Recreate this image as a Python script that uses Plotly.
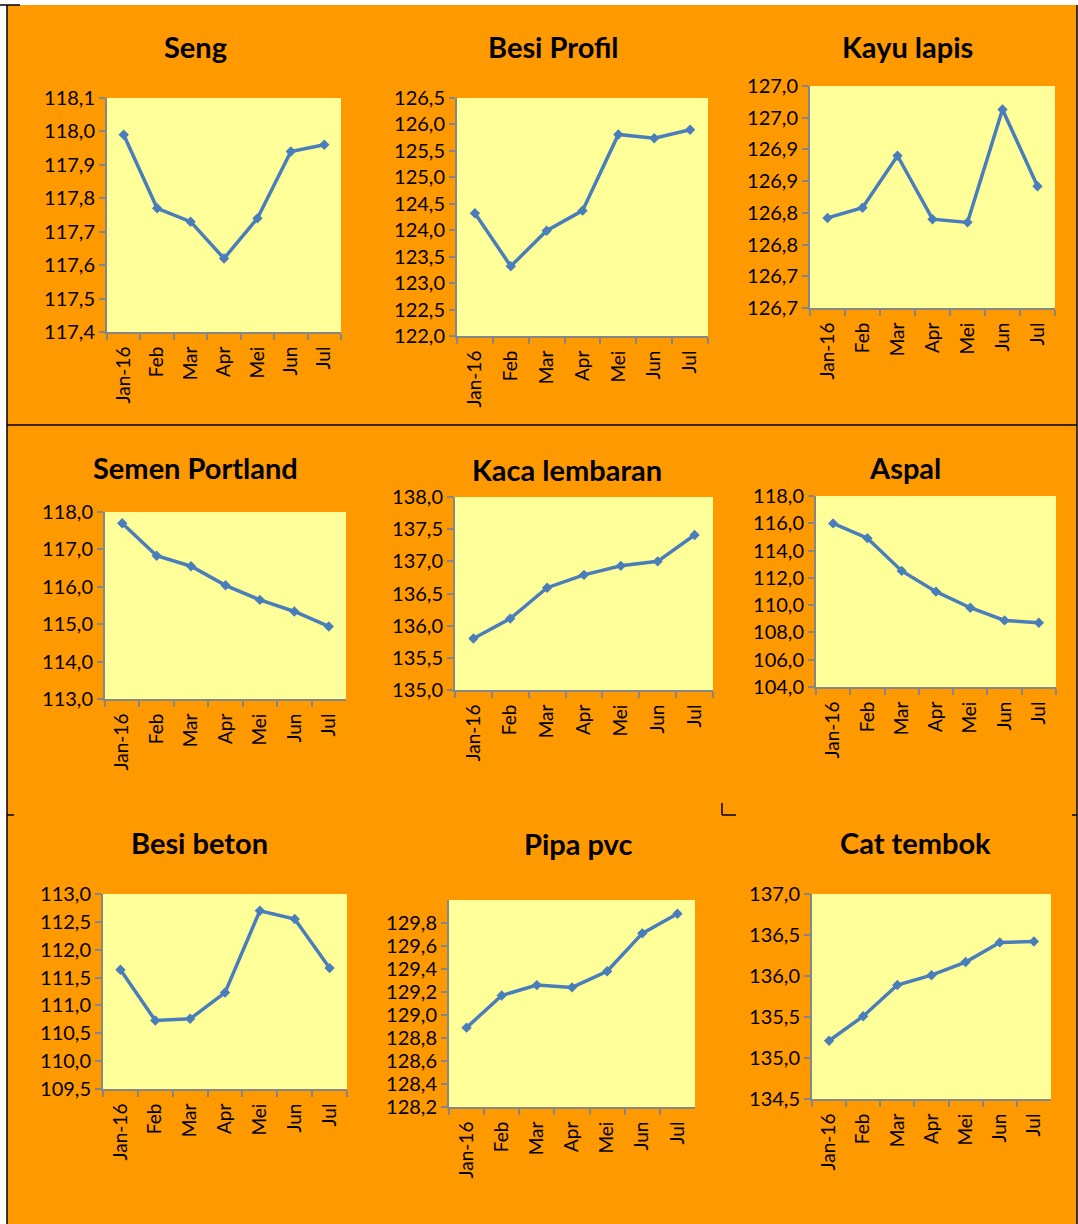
import plotly.graph_objects as go

W, H = 1078, 1224

months = ["Jan-16", "Feb", "Mar", "Apr", "Mei", "Jun", "Jul"]

titles = ["Seng", "Besi Profil", "Kayu lapis",
          "Semen Portland", "Kaca lembaran", "Aspal",
          "Besi beton", "Pipa pvc", "Cat tembok"]

seng = [117.99, 117.77, 117.73, 117.62, 117.74, 117.94, 117.96]
besi_profil = [124.32, 123.32, 123.99, 124.37, 125.81, 125.74, 125.90]
kayu_lapis = [126.792, 126.808, 126.890, 126.790, 126.785, 126.963, 126.842]
semen_portland = [117.70, 116.83, 116.55, 116.04, 115.65, 115.34, 114.94]
kaca_lembaran = [135.80, 136.11, 136.59, 136.79, 136.93, 137.00, 137.41]
aspal = [115.99, 114.91, 112.51, 110.99, 109.81, 108.88, 108.71]
besi_beton = [111.64, 110.73, 110.76, 111.23, 112.70, 112.55, 111.67]
pipa_pvc = [128.89, 129.17, 129.26, 129.24, 129.38, 129.71, 129.88]
cat_tembok = [135.21, 135.51, 135.89, 136.01, 136.17, 136.41, 136.42]

series = [seng, besi_profil, kayu_lapis, semen_portland, kaca_lembaran,
          aspal, besi_beton, pipa_pvc, cat_tembok]

def ticks(lo, hi, step):
    n = int(round((hi - lo) / step))
    return [round(lo + i * step, 4) for i in range(n + 1)]

kayu_vals = ticks(126.65, 127.00, 0.05)
kayu_text = ["126,7", "126,7", "126,8", "126,8", "126,9", "126,9", "127,0", "127,0"]

yaxes_cfg = [
    (117.4, 118.1, ticks(117.4, 118.1, 0.1), None),
    (122.0, 126.5, ticks(122.0, 126.5, 0.5), None),
    (126.65, 127.00, kayu_vals, kayu_text),
    (113.0, 118.0, ticks(113.0, 118.0, 1.0), None),
    (135.0, 138.0, ticks(135.0, 138.0, 0.5), None),
    (104.0, 118.0, ticks(104.0, 118.0, 2.0), None),
    (109.5, 113.0, ticks(109.5, 113.0, 0.5), None),
    (128.2, 130.0, ticks(128.2, 129.8, 0.2), None),
    (134.5, 137.0, ticks(134.5, 137.0, 0.5), None),
]

# plot-area boxes in pixels (x0, x1, y0, y1) measured from top-left
boxes = [
    (107, 341, 98, 332), (457, 708, 98, 336), (810, 1055, 86, 308),
    (105, 346, 512, 699), (455, 713, 497, 690), (816, 1056, 496, 687),
    (103, 347, 894, 1089), (449, 695, 900, 1107), (812, 1051, 894, 1099),
]

title_pos = [
    (195, 47), (553, 47), (907, 47),
    (195, 467), (567, 470), (905, 468),
    (200, 842), (578, 843), (915, 842),
]

FONT = "Lato"
AXIS_COLOR = "#868686"
LINE_COLOR = "#4A7EBB"

fig = go.Figure()
layout = dict(
    width=W, height=H,
    margin=dict(l=0, r=0, t=0, b=0, pad=0, autoexpand=False),
    paper_bgcolor="#FF9900",
    plot_bgcolor="#FFFF99",
    showlegend=False,
    separators=",.",
    font=dict(family=FONT, color="#000000"),
)

annotations = []
for i in range(9):
    k = "" if i == 0 else str(i + 1)
    x0, x1, y0, y1 = boxes[i]
    fig.add_trace(go.Scatter(
        x=months, y=series[i], mode="lines+markers",
        line=dict(color=LINE_COLOR, width=3.5),
        marker=dict(symbol="diamond", size=8, color=LINE_COLOR),
        xaxis="x" + k, yaxis="y" + k, hoverinfo="skip",
    ))
    lo, hi, tv, tt = yaxes_cfg[i]
    layout["xaxis" + k] = dict(
        domain=[x0 / W, x1 / W], anchor="y" + k,
        type="category", categoryorder="array", categoryarray=months,
        range=[-0.5, 6.5], tickson="boundaries",
        ticks="outside", ticklen=6, tickwidth=2, tickcolor=AXIS_COLOR,
        showline=True, linecolor=AXIS_COLOR, linewidth=2,
        showgrid=False, zeroline=False, tickangle=-90, automargin=False,
        ticklabelstandoff=5,
        tickfont=dict(family=FONT, size=19, color="#000000"),
        fixedrange=True,
    )
    yax = dict(
        domain=[1 - y1 / H, 1 - y0 / H], anchor="x" + k,
        range=[lo, hi], tickvals=tv, automargin=False,
        ticks="outside", ticklen=6, tickwidth=2, tickcolor=AXIS_COLOR,
        showline=True, linecolor=AXIS_COLOR, linewidth=2,
        showgrid=False, zeroline=False,
        tickfont=dict(family=FONT, size=20, color="#000000"),
        fixedrange=True,
    )
    if tt is not None:
        yax["ticktext"] = tt
    else:
        yax["tickformat"] = ".1f"
    layout["yaxis" + k] = yax
    tx, ty = title_pos[i]
    annotations.append(dict(
        text="<b>" + titles[i] + "</b>", xref="paper", yref="paper",
        x=tx / W, y=1 - ty / H, xanchor="center", yanchor="middle",
        showarrow=False, font=dict(family=FONT, size=29, color="#000000"),
    ))

layout["annotations"] = annotations

def px(x):
    return x / W

def py(y):
    return 1 - y / H

shapes = []
shapes.append(dict(type="rect", xref="paper", yref="paper", x0=0, x1=1,
                   y0=py(5), y1=1, fillcolor="white", line=dict(width=0), layer="above"))
shapes.append(dict(type="rect", xref="paper", yref="paper", x0=0, x1=px(7),
                   y0=0, y1=1, fillcolor="white", line=dict(width=0), layer="above"))
shapes.append(dict(type="rect", xref="paper", yref="paper", x0=px(1077), x1=1,
                   y0=0, y1=1, fillcolor="white", line=dict(width=0), layer="above"))

def seg(xa, ya, xb, yb):
    shapes.append(dict(type="line", xref="paper", yref="paper",
                       x0=px(xa), y0=py(ya), x1=px(xb), y1=py(yb),
                       line=dict(color="black", width=1.5), layer="above"))

seg(7, 5, 7, 1224)
seg(1077, 5, 1077, 1224)
seg(7, 425, 1077, 425)
seg(0, 5, 20, 5)
seg(7, 815, 14, 815)
seg(722, 803, 722, 815)
seg(722, 815, 736, 815)
seg(1072, 815, 1077, 815)

layout["shapes"] = shapes
fig.update_layout(**layout)

post = ("document.documentElement.style.margin='0';"
        "document.documentElement.style.overflow='hidden';"
        "document.body.style.margin='0';"
        "document.body.style.padding='0';"
        "document.body.style.overflow='hidden';")
fig.write_html("out.html", post_script=post,
               config={"displayModeBar": False, "staticPlot": True})
